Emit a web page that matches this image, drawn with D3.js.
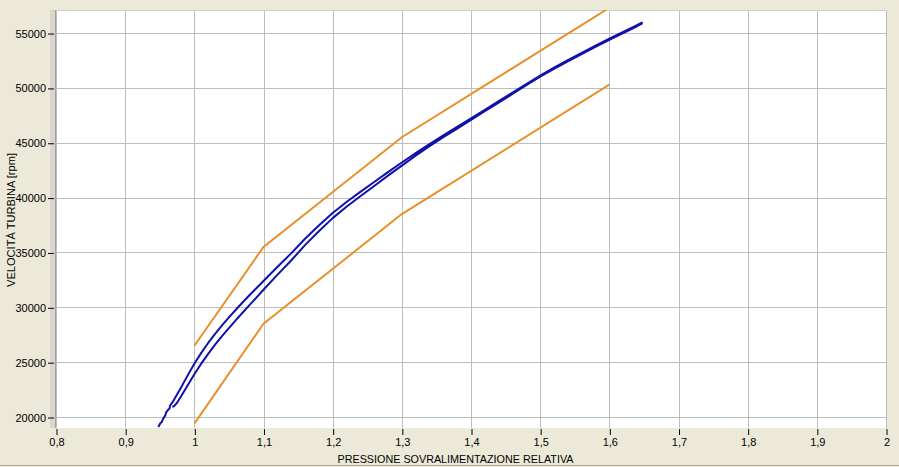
<!DOCTYPE html>
<html>
<head>
<meta charset="utf-8">
<script src="https://cdn.jsdelivr.net/npm/d3@7"></script>
<style>
  html, body { margin: 0; padding: 0; background: #ECE9D8; }
  svg { display: block; }
  text { font-family: "Liberation Sans", Arial, sans-serif; fill: #000; }
</style>
</head>
<body>
<svg id="chart" width="899" height="467"></svg>
<script>
// ---- data ----
const xTicks = [0.8, 0.9, 1.0, 1.1, 1.2, 1.3, 1.4, 1.5, 1.6, 1.7, 1.8, 1.9, 2.0];
const xTickLabels = ["0,8", "0,9", "1", "1,1", "1,2", "1,3", "1,4", "1,5", "1,6", "1,7", "1,8", "1,9", "2"];
const yTicks = [20000, 25000, 30000, 35000, 40000, 45000, 50000, 55000];
const yTickLabels = ["20000", "25000", "30000", "35000", "40000", "45000", "50000", "55000"];

const xTitle = "PRESSIONE SOVRALIMENTAZIONE RELATIVA";
const yTitle = "VELOCITÀ TURBINA [rpm]";

// orange limit lines
const upperLimitP = [1.0, 1.1, 1.3, 1.6];
const upperLimitRpm = [26500, 35500, 45500, 57300];
const lowerLimitP = [1.0, 1.1, 1.3, 1.6];
const lowerLimitRpm = [19400, 28500, 38500, 50300];

// measured curve: rising branch (upper-left)
const riseP = [0.948, 0.951, 0.953, 0.955, 0.958, 0.959, 0.962, 0.964, 0.965, 0.970, 0.980, 0.990, 1.000, 1.010, 1.020, 1.030, 1.040, 1.050, 1.060, 1.070, 1.080, 1.090, 1.100, 1.120, 1.140, 1.160, 1.180, 1.200, 1.220, 1.240, 1.260, 1.280, 1.300, 1.320, 1.340, 1.360, 1.380, 1.400, 1.420, 1.440, 1.460, 1.480, 1.500, 1.520, 1.540, 1.560, 1.580, 1.600, 1.620, 1.640, 1.647];
const riseRpm = [19100, 19450, 19550, 19850, 20150, 20400, 20650, 20750, 21050, 21500, 22600, 23750, 24850, 25850, 26750, 27580, 28350, 29080, 29780, 30460, 31120, 31760, 32400, 33680, 34920, 36250, 37450, 38600, 39600, 40520, 41420, 42320, 43200, 44050, 44870, 45670, 46450, 47230, 48010, 48790, 49570, 50350, 51130, 51840, 52530, 53200, 53850, 54480, 55110, 55730, 55950];
// measured curve: falling branch (lower-right)
const fallP = [1.647, 1.640, 1.620, 1.600, 1.580, 1.560, 1.540, 1.520, 1.500, 1.480, 1.460, 1.440, 1.420, 1.400, 1.380, 1.360, 1.340, 1.320, 1.300, 1.280, 1.260, 1.240, 1.220, 1.200, 1.180, 1.160, 1.140, 1.120, 1.100, 1.090, 1.080, 1.070, 1.060, 1.050, 1.040, 1.030, 1.020, 1.010, 1.000, 0.990, 0.980, 0.975, 0.970, 0.968];
const fallRpm = [55850, 55620, 55000, 54370, 53740, 53090, 52420, 51730, 51020, 50240, 49450, 48660, 47870, 47080, 46290, 45500, 44680, 43820, 42920, 42000, 41060, 40120, 39160, 38130, 36930, 35670, 34270, 32960, 31600, 30900, 30220, 29530, 28830, 28110, 27370, 26590, 25760, 24870, 23900, 22850, 21800, 21300, 20950, 20950];

// ---- drawing ----
const svg = d3.select("#chart");
const W = 899, H = 467;
const plot = { left: 56, top: 10, right: 886, bottom: 428 };

const x = d3.scaleLinear().domain([0.8, 2.0]).range([plot.left, plot.right]);
const y = d3.scaleLinear().domain([19000, 57100]).range([plot.bottom, plot.top]);

// background panel
svg.append("rect").attr("x", 0).attr("y", 0).attr("width", W).attr("height", H).attr("fill", "#ECE9D8");
svg.append("line").attr("x1", 0).attr("x2", W).attr("y1", H - 1.5).attr("y2", H - 1.5)
  .attr("stroke", "#ACA899").attr("stroke-width", 1);

// sunken frame on the left
svg.append("rect").attr("x", 50).attr("y", plot.top).attr("width", 5).attr("height", plot.bottom - plot.top)
  .attr("fill", "#D8D5CC");

// plot area
svg.append("rect").attr("x", plot.left).attr("y", plot.top)
  .attr("width", plot.right - plot.left + 1).attr("height", plot.bottom - plot.top)
  .attr("fill", "#FFFFFF");
svg.append("line").attr("x1", plot.left - 0.5).attr("x2", plot.left - 0.5)
  .attr("y1", plot.top).attr("y2", plot.bottom).attr("stroke", "#A0A0A0");

// grid
const grid = svg.append("g");
grid.selectAll("line.vx").data(xTicks).enter().append("line")
  .attr("x1", d => Math.round(x(d)) + 0.5).attr("x2", d => Math.round(x(d)) + 0.5)
  .attr("y1", plot.top).attr("y2", plot.bottom)
  .attr("stroke", "#BDBDBD").attr("stroke-width", 1);
grid.selectAll("line.hy").data(yTicks).enter().append("line")
  .attr("x1", plot.left).attr("x2", plot.right + 1)
  .attr("y1", d => Math.round(y(d)) + 0.5).attr("y2", d => Math.round(y(d)) + 0.5)
  .attr("stroke", "#BDBDBD").attr("stroke-width", 1);
svg.append("line").attr("x1", plot.left).attr("x2", plot.right + 1)
  .attr("y1", plot.top + 0.5).attr("y2", plot.top + 0.5).attr("stroke", "#D0D0D0");

// clip
svg.append("clipPath").attr("id", "clip").append("rect")
  .attr("x", plot.left).attr("y", plot.top)
  .attr("width", plot.right - plot.left + 1).attr("height", plot.bottom - plot.top);

const line = d3.line().x(d => x(d[0])).y(d => y(d[1]));
const lines = svg.append("g").attr("clip-path", "url(#clip)");

const zip = (a, b) => a.map((v, i) => [v, b[i]]);

lines.append("path").datum(zip(upperLimitP, upperLimitRpm))
  .attr("d", line).attr("fill", "none").attr("stroke", "#E8902C").attr("stroke-width", 2);
lines.append("path").datum(zip(lowerLimitP, lowerLimitRpm))
  .attr("d", line).attr("fill", "none").attr("stroke", "#E8902C").attr("stroke-width", 2);

const loop = zip(riseP, riseRpm).concat(zip(fallP, fallRpm));
lines.append("path").datum(loop)
  .attr("d", line).attr("fill", "none").attr("stroke", "#1010AE").attr("stroke-width", 2)
  .attr("stroke-linejoin", "round");

// x axis
const xAxis = d3.axisBottom(x).tickValues(xTicks)
  .tickFormat((d, i) => xTickLabels[i]).tickSize(6).tickPadding(3);
const gx = svg.append("g").attr("transform", `translate(0.5,${plot.bottom + 1})`).call(xAxis);
gx.select(".domain").remove();
gx.selectAll(".tick line").attr("stroke", "#000");
gx.selectAll(".tick text").attr("font-size", 11).attr("font-family", "Liberation Sans, Arial, sans-serif").attr("fill", "#000");

// y axis
const yAxis = d3.axisLeft(y).tickValues(yTicks)
  .tickFormat((d, i) => yTickLabels[i]).tickSize(6).tickPadding(2);
const gy = svg.append("g").attr("transform", `translate(${plot.left - 2},0.5)`).call(yAxis);
gy.select(".domain").remove();
gy.selectAll(".tick line").attr("stroke", "#000");
gy.selectAll(".tick text").attr("font-size", 11).attr("font-family", "Liberation Sans, Arial, sans-serif").attr("fill", "#000");

// titles
svg.append("text").attr("x", 455.5).attr("y", 463)
  .attr("text-anchor", "middle").attr("font-size", 11)
  .attr("textLength", 236).attr("lengthAdjust", "spacingAndGlyphs")
  .text(xTitle);
svg.append("text").attr("transform", "translate(15,220) rotate(-90)")
  .attr("text-anchor", "middle").attr("font-size", 11)
  .attr("textLength", 134).attr("lengthAdjust", "spacingAndGlyphs")
  .text(yTitle);
</script>
</body>
</html>
